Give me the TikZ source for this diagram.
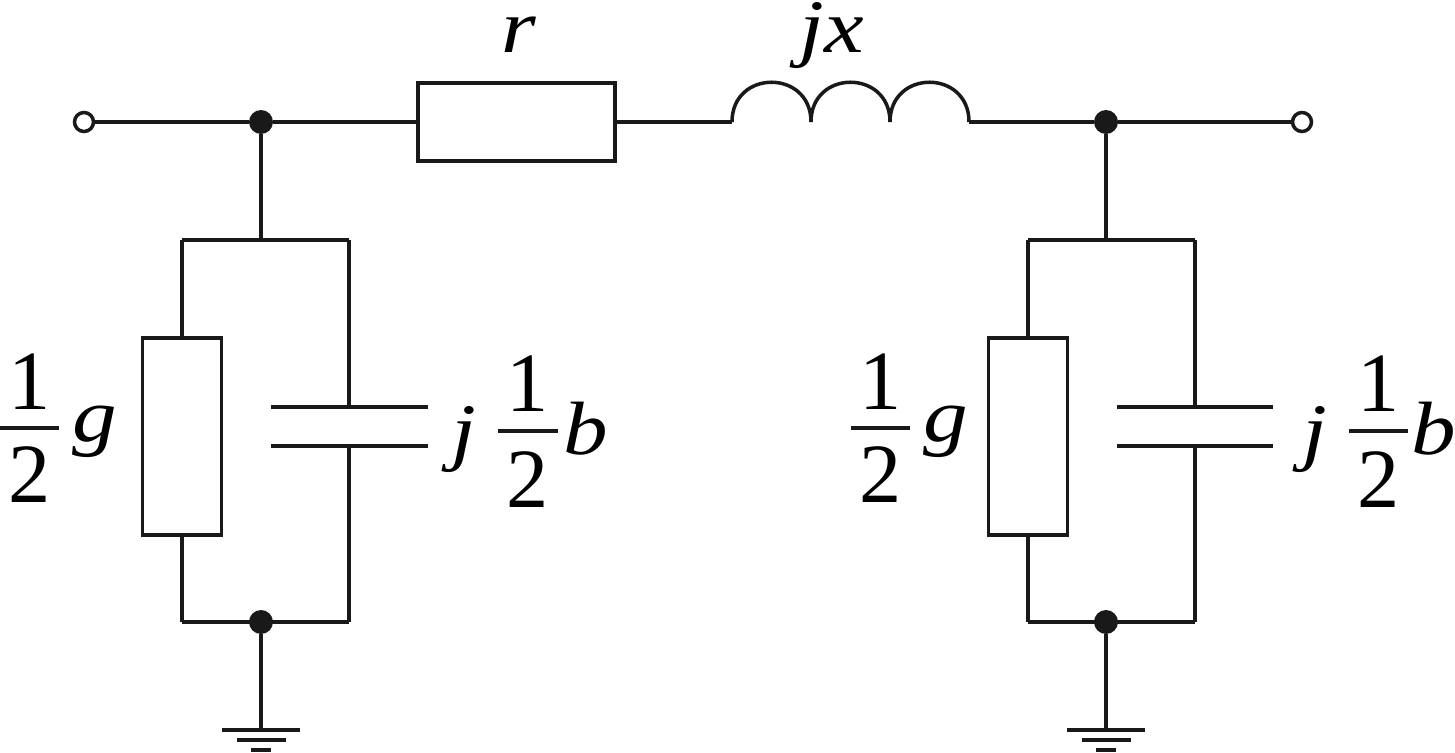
\documentclass[tikz,border=0pt]{standalone}
\usepackage{fontspec}
\setmainfont{Liberation Serif}
\newfontfamily\labfont[FakeStretch=1.18]{Liberation Serif}
\tikzset{
	wire/.style={line width=2pt,line join=miter,color=black!90},
	elembox/.style={draw=black!90,line width=2pt,fill=white,rectangle,minimum width=1.58cm,minimum height=3.94cm,inner sep=0pt},
	serbox/.style={elembox,minimum width=3.94cm,minimum height=1.56cm},
	opendot/.style={draw=black!90,line width=2pt,fill=white,circle,minimum size=0.38cm,inner sep=0pt},
	fulldot/.style={fill=black!90,circle,minimum size=0.48cm,inner sep=0pt},
	lab/.style={anchor=base,inner sep=0pt,font=\fontsize{43}{43}\labfont\itshape},
	num/.style={anchor=base,inner sep=0pt,font=\fontsize{48}{48}\selectfont},
}
\begin{document}
\begin{tikzpicture}[x=0.02cm,y=-0.02cm]
	\useasboundingbox (0,0) rectangle (1455,753);
	% series branch
	\node[opendot] (termL) at (84,122) {};
	\node[fulldot] (topL) at (261,122) {};
	\node[serbox] (resR) at (516.5,122) {};
	\coordinate (coilA) at (732,122);
	\coordinate (coilB) at (811,122);
	\coordinate (coilC) at (890,122);
	\coordinate (coilD) at (969,122);
	\node[fulldot] (topR) at (1106,122) {};
	\node[opendot] (termR) at (1302,122) {};
	\draw[wire] (termL) to (topL);
	\draw[wire] (topL) to (resR);
	\draw[wire] (resR) to (coilA);
	\draw[wire] (coilA) .. controls +(0,-53) and +(0,-53) .. (coilB);
	\draw[wire] (coilB) .. controls +(0,-53) and +(0,-53) .. (coilC);
	\draw[wire] (coilC) .. controls +(0,-53) and +(0,-53) .. (coilD);
	\draw[wire] (coilD) to (topR);
	\draw[wire] (topR) to (termR);
	\node[lab] (labR) at (519,53) {r};
	\node[lab] (labX) at (832,53) {jx};
	% left shunt
	\coordinate (jointL) at (261,240);
	\coordinate (cornerLa) at (182,240);
	\coordinate (cornerLb) at (349,240);
	\node[elembox] (resL) at (182,436.5) {};
	\coordinate (plateLa) at (349,407);
	\coordinate (plateLb) at (349,446);
	\coordinate (plateLaW) at (271,407);
	\coordinate (plateLaE) at (428,407);
	\coordinate (plateLbW) at (271,446);
	\coordinate (plateLbE) at (428,446);
	\coordinate (cornerLc) at (182,622);
	\coordinate (cornerLd) at (349,622);
	\node[fulldot] (botL) at (261,622) {};
	\coordinate (gndL) at (261,730);
	\draw[wire] (topL) to (jointL);
	\draw[wire] (cornerLa) to (cornerLb);
	\draw[wire] (cornerLa) to (resL.north -| cornerLa);
	\draw[wire] (resL.south -| cornerLa) to (cornerLc);
	\draw[wire] (cornerLc) to (cornerLd);
	\draw[wire] (cornerLb) to (plateLa);
	\draw[wire] (plateLb) to (cornerLd);
	\draw[wire] (plateLaW) to (plateLaE);
	\draw[wire] (plateLbW) to (plateLbE);
	\draw[wire] (botL) to (gndL);
	\draw[wire] (222,730) to (300,730);
	\draw[wire] (237,740) to (286,740);
	\draw[wire] (251,750) to (271,750);
	\node[num] (gLa) at (30,410) {1};
	\draw[wire] (0,428) to (59,428);
	\node[num] (gLb) at (30,502) {2};
	\node[lab] (gL) at (95,441) {g};
	\node[lab] (jL) at (464,457) {j};
	\node[num] (bLa) at (528,412) {1};
	\draw[wire] (498,431) to (558,431);
	\node[num] (bLb) at (528,507) {2};
	\node[lab] (bL) at (586,455) {b};
	% right shunt
	\coordinate (jointR) at (1106,240);
	\coordinate (cornerRa) at (1028,240);
	\coordinate (cornerRb) at (1195,240);
	\node[elembox] (resS) at (1028,436.5) {};
	\coordinate (plateRa) at (1195,407);
	\coordinate (plateRb) at (1195,446);
	\coordinate (plateRaW) at (1117,407);
	\coordinate (plateRaE) at (1273,407);
	\coordinate (plateRbW) at (1117,446);
	\coordinate (plateRbE) at (1273,446);
	\coordinate (cornerRc) at (1028,622);
	\coordinate (cornerRd) at (1195,622);
	\node[fulldot] (botR) at (1106,622) {};
	\coordinate (gndR) at (1106,730);
	\draw[wire] (topR) to (jointR);
	\draw[wire] (cornerRa) to (cornerRb);
	\draw[wire] (cornerRa) to (resS.north -| cornerRa);
	\draw[wire] (resS.south -| cornerRa) to (cornerRc);
	\draw[wire] (cornerRc) to (cornerRd);
	\draw[wire] (cornerRb) to (plateRa);
	\draw[wire] (plateRb) to (cornerRd);
	\draw[wire] (plateRaW) to (plateRaE);
	\draw[wire] (plateRbW) to (plateRbE);
	\draw[wire] (botR) to (gndR);
	\draw[wire] (1067,730) to (1145,730);
	\draw[wire] (1082,740) to (1131,740);
	\draw[wire] (1096,750) to (1116,750);
	\node[num] (gRa) at (881,410) {1};
	\draw[wire] (851,428) to (910,428);
	\node[num] (gRb) at (881,502) {2};
	\node[lab] (gR) at (946,441) {g};
	\node[lab] (jR) at (1315,457) {j};
	\node[num] (bRa) at (1379,412) {1};
	\draw[wire] (1349,431) to (1408,431);
	\node[num] (bRb) at (1379,507) {2};
	\node[lab] (bR) at (1434,455) {b};
\end{tikzpicture}
\end{document}
